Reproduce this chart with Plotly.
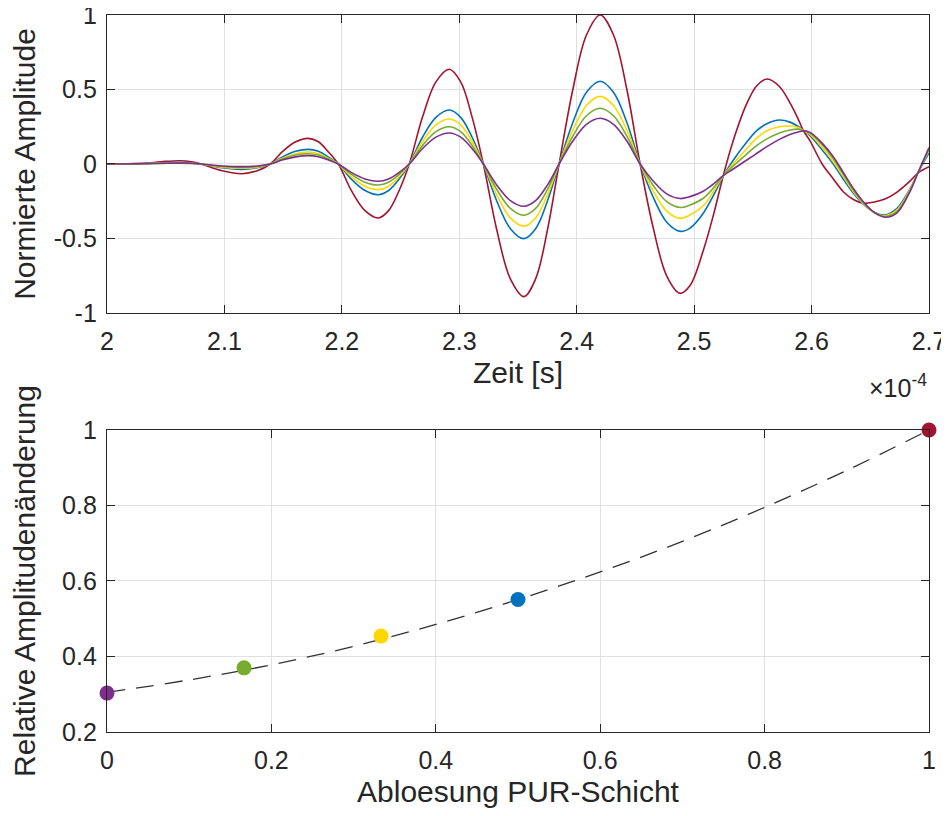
import plotly.graph_objects as go

# ---------------- data: top panel (time in units of 1e-4 s) ----------------
zeit = [2.000, 2.030, 2.046, 2.062, 2.072, 2.080, 2.098, 2.115, 2.128, 2.139,
        2.1498, 2.1607, 2.1715, 2.180, 2.188, 2.197,
        2.2083, 2.2197, 2.231, 2.2398, 2.2486, 2.2574,
        2.2688, 2.2801, 2.2915, 2.3012, 2.3108, 2.3205,
        2.332, 2.3435, 2.355, 2.365, 2.375, 2.385,
        2.3967, 2.4083, 2.420, 2.4313, 2.4427, 2.454,
        2.4653, 2.4767, 2.488, 2.4965, 2.5078, 2.5165, 2.5249,
        2.533, 2.5445, 2.5535, 2.5623, 2.5726, 2.5816, 2.5887, 2.593, 2.5987,
        2.609, 2.6185, 2.627, 2.636, 2.644, 2.6535, 2.6625, 2.6725, 2.6838, 2.691, 2.700]

amp_red = [0.000, 0.004, 0.015, 0.022, 0.014, 0.000, -0.045, -0.065, -0.045, 0.000,
           0.086, 0.149, 0.172, 0.149, 0.086, 0.000,
           -0.181, -0.313, -0.362, -0.313, -0.181, 0.000,
           0.318, 0.551, 0.636, 0.551, 0.318, 0.000,
           -0.445, -0.771, -0.890, -0.771, -0.445, 0.000,
           0.500, 0.866, 1.000, 0.866, 0.500, 0.000,
           -0.434, -0.752, -0.868, -0.816, -0.580, -0.340, -0.075,
           0.150, 0.400, 0.527, 0.570, 0.520, 0.410, 0.300, 0.224, 0.155,
           0.000, -0.100, -0.186, -0.240, -0.264, -0.255, -0.235, -0.190, -0.115, -0.058, -0.018]

amp_blue = [0.000, 0.003, 0.008, 0.012, 0.008, 0.000, -0.025, -0.036, -0.025, 0.000,
            0.049, 0.085, 0.098, 0.085, 0.049, 0.000,
            -0.103, -0.178, -0.206, -0.178, -0.103, 0.000,
            0.181, 0.313, 0.362, 0.313, 0.181, 0.000,
            -0.250, -0.434, -0.501, -0.434, -0.250, 0.000,
            0.278, 0.481, 0.555, 0.481, 0.278, 0.000,
            -0.226, -0.391, -0.452, -0.430, -0.330, -0.210, -0.080,
            0.022, 0.144, 0.225, 0.272, 0.295, 0.281, 0.252, 0.226, 0.190,
            0.095, 0.000, -0.102, -0.200, -0.270, -0.325, -0.342, -0.300, -0.167, -0.052, 0.075]

amp_yellow = [0.000, 0.003, 0.007, 0.010, 0.007, 0.000, -0.021, -0.029, -0.021, 0.000,
              0.040, 0.069, 0.080, 0.069, 0.040, 0.000,
              -0.086, -0.149, -0.172, -0.149, -0.086, 0.000,
              0.151, 0.262, 0.302, 0.262, 0.151, 0.000,
              -0.209, -0.362, -0.418, -0.362, -0.209, 0.000,
              0.227, 0.393, 0.454, 0.393, 0.227, 0.000,
              -0.183, -0.316, -0.365, -0.342, -0.280, -0.185, -0.078,
              0.000, 0.100, 0.175, 0.225, 0.250, 0.255, 0.245, 0.225, 0.198,
              0.110, 0.015, -0.085, -0.190, -0.265, -0.327, -0.347, -0.310, -0.172, -0.052, 0.090]

amp_green = [0.000, 0.002, 0.005, 0.008, 0.005, 0.000, -0.017, -0.024, -0.017, 0.000,
             0.035, 0.060, 0.069, 0.060, 0.035, 0.000,
             -0.070, -0.122, -0.141, -0.122, -0.070, 0.000,
             0.125, 0.217, 0.250, 0.217, 0.125, 0.000,
             -0.172, -0.298, -0.344, -0.298, -0.172, 0.000,
             0.187, 0.324, 0.374, 0.324, 0.187, 0.000,
             -0.146, -0.253, -0.292, -0.275, -0.230, -0.160, -0.078,
             -0.015, 0.065, 0.125, 0.170, 0.208, 0.228, 0.234, 0.226, 0.205,
             0.130, 0.035, -0.070, -0.180, -0.259, -0.327, -0.352, -0.320, -0.178, -0.052, 0.100]

amp_purple = [0.000, 0.002, 0.004, 0.006, 0.004, 0.000, -0.013, -0.018, -0.013, 0.000,
              0.028, 0.048, 0.056, 0.048, 0.028, 0.000,
              -0.058, -0.100, -0.116, -0.100, -0.058, 0.000,
              0.104, 0.180, 0.208, 0.180, 0.104, 0.000,
              -0.142, -0.246, -0.284, -0.246, -0.142, 0.000,
              0.154, 0.266, 0.307, 0.266, 0.154, 0.000,
              -0.116, -0.201, -0.232, -0.219, -0.183, -0.134, -0.077,
              -0.035, 0.025, 0.072, 0.118, 0.165, 0.198, 0.215, 0.222, 0.212,
              0.140, 0.049, -0.057, -0.169, -0.253, -0.325, -0.357, -0.330, -0.185, -0.052, 0.110]

# ---------------- data: bottom panel ----------------
abloesung = [0.0, 0.1667, 0.3333, 0.5, 1.0]
rel_amp = [0.303, 0.370, 0.454, 0.551, 1.0]

fit_x = [0.0, 0.1, 0.2, 0.3, 0.4, 0.5, 0.6, 0.7, 0.8, 0.9, 1.0]
fit_y = [0.305, 0.338, 0.378, 0.427, 0.485, 0.551, 0.624, 0.705, 0.795, 0.893, 1.0]

# ticks
top_xticks = [2.0, 2.1, 2.2, 2.3, 2.4, 2.5, 2.6, 2.7]
top_xlabels = ["2", "2.1", "2.2", "2.3", "2.4", "2.5", "2.6", "2.7"]
top_yticks = [-1, -0.5, 0, 0.5, 1]
top_ylabels = ["-1", "-0.5", "0", "0.5", "1"]
bot_xticks = [0, 0.2, 0.4, 0.6, 0.8, 1]
bot_xlabels = ["0", "0.2", "0.4", "0.6", "0.8", "1"]
bot_yticks = [0.2, 0.4, 0.6, 0.8, 1]
bot_ylabels = ["0.2", "0.4", "0.6", "0.8", "1"]

C_RED = "#A2142F"
C_BLUE = "#0072BD"
C_YELLOW = "#FFD700"
C_GREEN = "#77AC30"
C_PURPLE = "#7E2F8E"

FONT = "Liberation Sans, Arial, sans-serif"
TXT = "#262626"

fig = go.Figure()

series = [(amp_red, C_RED), (amp_blue, C_BLUE), (amp_yellow, C_YELLOW),
          (amp_green, C_GREEN), (amp_purple, C_PURPLE)]
for vals, col in series:
    fig.add_trace(go.Scatter(x=zeit, y=vals, mode="lines",
                             line=dict(color=col, width=1.6, shape="spline", smoothing=1.0),
                             xaxis="x", yaxis="y", showlegend=False, hoverinfo="skip"))

fig.add_trace(go.Scatter(x=fit_x, y=fit_y, mode="lines",
                         line=dict(color="#333333", width=1.3, dash="18px,11px", shape="spline"),
                         xaxis="x2", yaxis="y2", showlegend=False))
fig.add_trace(go.Scatter(x=abloesung, y=rel_amp, mode="markers",
                         marker=dict(size=15, color=[C_PURPLE, C_GREEN, C_YELLOW, C_BLUE, C_RED],
                                     line=dict(width=0)),
                         cliponaxis=False, xaxis="x2", yaxis="y2", showlegend=False))

axis_common = dict(
    showline=True, linecolor=TXT, linewidth=1.3, mirror="ticks",
    ticks="inside", ticklen=8, tickwidth=1.3, tickcolor=TXT,
    showgrid=True, gridcolor="#E0E0E0", gridwidth=1, automargin=False,
    ticklabeloverflow="allow",
    zeroline=False, tickfont=dict(family=FONT, size=25, color=TXT),
    title_font=dict(family=FONT, size=30, color=TXT),
)

# The page body has an 8px margin, so the figure is 8px smaller than the window.
fig.update_layout(
    width=941, height=808,
    margin=dict(l=99, r=20, t=7, b=84),
    paper_bgcolor="white", plot_bgcolor="white",
    font=dict(family=FONT, color=TXT),
    xaxis=dict(domain=[0, 1], range=[2, 2.7], tickvals=top_xticks, ticktext=top_xlabels,
               anchor="y", ticklabelstandoff=6,
               title=dict(text="Zeit [s]", standoff=7), **axis_common),
    yaxis=dict(domain=[0.5844, 1], range=[-1, 1], tickvals=top_yticks, ticktext=top_ylabels,
               anchor="x", ticklabelstandoff=4,
               title=dict(text="Normierte Amplitude", standoff=10), **axis_common),
    xaxis2=dict(domain=[0, 1], range=[0, 1], tickvals=bot_xticks, ticktext=bot_xlabels,
                anchor="y2", ticklabelstandoff=6,
                title=dict(text="Abloesung PUR-Schicht", standoff=7), **axis_common),
    yaxis2=dict(domain=[0, 0.4212], range=[0.2, 1], tickvals=bot_yticks, ticktext=bot_ylabels,
                anchor="x2", ticklabelstandoff=4,
                title=dict(text="Relative Amplitudenänderung", standoff=18), **axis_common),
    annotations=[dict(text="×10<sup>-4</sup>", xref="paper", yref="paper", x=1.0, y=0.4826,
                      xanchor="right", yanchor="middle", showarrow=False,
                      font=dict(family=FONT, size=25, color=TXT))],
)

fig.write_html("out.html")
